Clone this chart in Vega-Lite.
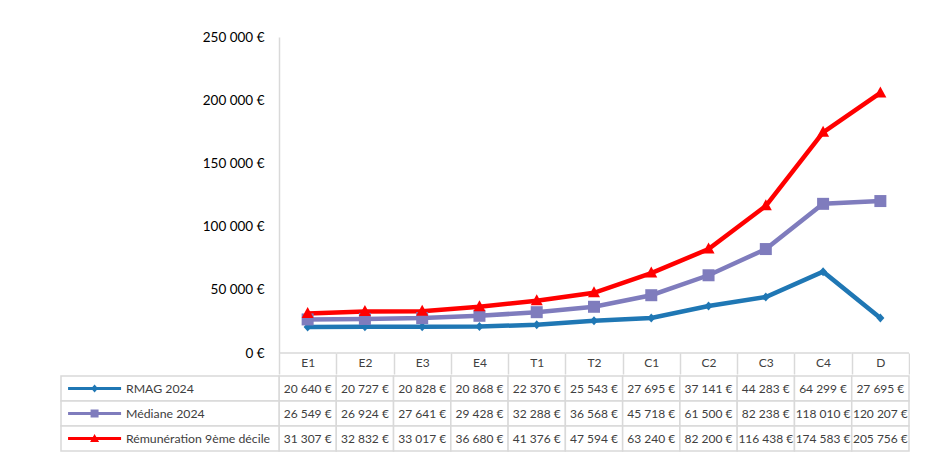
{
  "$schema": "https://vega.github.io/schema/vega-lite/v6.json",
  "padding": {"left": 60, "top": 30, "right": 0, "bottom": 0},
  "background": "white",
  "config": {"view": {"stroke": null}, "font": "Lato"},
  "spacing": 0,
  "resolve": {"scale": {"shape": "independent", "color": "independent"}},
  "data": {"values": [
    {"cat": "E1", "serie": "RMAG 2024", "valeur": 20640},
    {"cat": "E2", "serie": "RMAG 2024", "valeur": 20727},
    {"cat": "E3", "serie": "RMAG 2024", "valeur": 20828},
    {"cat": "E4", "serie": "RMAG 2024", "valeur": 20868},
    {"cat": "T1", "serie": "RMAG 2024", "valeur": 22370},
    {"cat": "T2", "serie": "RMAG 2024", "valeur": 25543},
    {"cat": "C1", "serie": "RMAG 2024", "valeur": 27695},
    {"cat": "C2", "serie": "RMAG 2024", "valeur": 37141},
    {"cat": "C3", "serie": "RMAG 2024", "valeur": 44283},
    {"cat": "C4", "serie": "RMAG 2024", "valeur": 64299},
    {"cat": "D", "serie": "RMAG 2024", "valeur": 27695},
    {"cat": "E1", "serie": "Médiane 2024", "valeur": 26549},
    {"cat": "E2", "serie": "Médiane 2024", "valeur": 26924},
    {"cat": "E3", "serie": "Médiane 2024", "valeur": 27641},
    {"cat": "E4", "serie": "Médiane 2024", "valeur": 29428},
    {"cat": "T1", "serie": "Médiane 2024", "valeur": 32288},
    {"cat": "T2", "serie": "Médiane 2024", "valeur": 36568},
    {"cat": "C1", "serie": "Médiane 2024", "valeur": 45718},
    {"cat": "C2", "serie": "Médiane 2024", "valeur": 61500},
    {"cat": "C3", "serie": "Médiane 2024", "valeur": 82238},
    {"cat": "C4", "serie": "Médiane 2024", "valeur": 118010},
    {"cat": "D", "serie": "Médiane 2024", "valeur": 120207},
    {"cat": "E1", "serie": "Rémunération 9ème décile", "valeur": 31307},
    {"cat": "E2", "serie": "Rémunération 9ème décile", "valeur": 32832},
    {"cat": "E3", "serie": "Rémunération 9ème décile", "valeur": 33017},
    {"cat": "E4", "serie": "Rémunération 9ème décile", "valeur": 36680},
    {"cat": "T1", "serie": "Rémunération 9ème décile", "valeur": 41376},
    {"cat": "T2", "serie": "Rémunération 9ème décile", "valeur": 47594},
    {"cat": "C1", "serie": "Rémunération 9ème décile", "valeur": 63240},
    {"cat": "C2", "serie": "Rémunération 9ème décile", "valeur": 82200},
    {"cat": "C3", "serie": "Rémunération 9ème décile", "valeur": 116438},
    {"cat": "C4", "serie": "Rémunération 9ème décile", "valeur": 174583},
    {"cat": "D", "serie": "Rémunération 9ème décile", "valeur": 205756}
  ]},
  "transform": [
    {"calculate": "floor(datum.valeur / 1000) + ' ' + pad(toString(datum.valeur % 1000), 3, '0', 'left') + ' €'", "as": "texte"}
  ],
  "vconcat": [
    {
      "width": 848,
      "height": 316,
      "encoding": {
        "x": {
          "field": "cat", "type": "nominal", "sort": null,
          "scale": {"type": "band", "domain": ["E1","E2","E3","E4","T1","T2","C1","C2","C3","C4","D"], "paddingInner": 0, "paddingOuter": 0, "range": [218, 848]},
          "axis": {"orient": "bottom", "title": null, "domain": false, "ticks": true, "tickBand": "extent", "tickSize": 21, "tickColor": "#d9d9d9", "tickWidth": 1.5, "labelAngle": 0, "labelFontSize": 12, "labelColor": "#404040", "labelPadding": -17, "labelFont": "Lato"}
        }
      },
      "layer": [
        {
          "transform": [{"filter": "datum.serie == 'RMAG 2024'"}],
          "mark": {"type": "rect", "fill": null, "stroke": "#d9d9d9", "strokeWidth": 1.5},
          "encoding": {
            "y": {"datum": 0, "type": "quantitative", "scale": {"domain": [0, 250000], "nice": false},
                  "axis": {"orient": "left", "offset": -218, "title": null, "values": [0, 50000, 100000, 150000, 200000, 250000], "ticks": false, "grid": false, "domainColor": "#d9d9d9", "domainWidth": 1.5, "labelFontSize": 13.5, "labelColor": "#000000", "labelPadding": 15, "labelFont": "Lato", "labelExpr": "datum.value == 0 ? '0 €' : format(datum.value / 1000, 'd') + ' 000 €'"}},
            "y2": {"datum": 0}
          }
        },
        {
          "mark": {"type": "line", "strokeWidth": 4.5},
          "encoding": {
            "x": {"field": "cat", "type": "nominal", "sort": null, "bandPosition": 0.5},
            "y": {"field": "valeur", "type": "quantitative"},
            "color": {"field": "serie", "type": "nominal", "legend": null,
                      "scale": {"domain": ["RMAG 2024", "Médiane 2024", "Rémunération 9ème décile"], "range": ["#1F77B4", "#7F7CBD", "#FF0000"]}}
          }
        },
        {
          "mark": {"type": "point", "filled": true, "opacity": 1, "size": 100},
          "encoding": {
            "x": {"field": "cat", "type": "nominal", "sort": null, "bandPosition": 0.5},
            "y": {"field": "valeur", "type": "quantitative"},
            "color": {"field": "serie", "type": "nominal", "legend": null},
            "shape": {"field": "serie", "type": "nominal", "legend": null,
                      "scale": {"domain": ["RMAG 2024", "Médiane 2024", "Rémunération 9ème décile"],
                                "range": ["M0,-0.9L0.8,0L0,0.9L-0.8,0Z", "M-1.2,-1.2H1.2V1.2H-1.2Z", "M0,-1.3L1.2,0.9H-1.2Z"]}}
          }
        }
      ]
    },
    {
      "width": 848,
      "height": 75,
      "resolve": {"scale": {"x": "independent"}},
      "layer": [
        {
          "mark": {"type": "rect", "fill": "white", "stroke": "#d9d9d9", "strokeWidth": 1.5},
          "encoding": {
            "x": {"field": "cat", "type": "nominal", "sort": null, "axis": null,
                  "scale": {"type": "band", "domain": ["E1","E2","E3","E4","T1","T2","C1","C2","C3","C4","D"], "paddingInner": 0, "paddingOuter": 0, "range": [218, 848]}},
            "y": {"field": "serie", "type": "nominal", "axis": null,
                  "scale": {"type": "band", "domain": ["RMAG 2024", "Médiane 2024", "Rémunération 9ème décile"], "paddingInner": 0, "paddingOuter": 0}}
          }
        },
        {
          "mark": {"type": "text", "fontSize": 12, "color": "#404040", "align": "center", "baseline": "middle"},
          "encoding": {
            "x": {"field": "cat", "type": "nominal", "sort": null, "axis": null, "bandPosition": 0.5,
                  "scale": {"type": "band", "domain": ["E1","E2","E3","E4","T1","T2","C1","C2","C3","C4","D"], "paddingInner": 0, "paddingOuter": 0, "range": [218, 848]}},
            "y": {"field": "serie", "type": "nominal", "axis": null, "bandPosition": 0.5},
            "text": {"field": "texte"}
          }
        },
        {
          "transform": [{"filter": "datum.cat == 'E1'"}],
          "mark": {"type": "rect", "fill": "white", "stroke": "#d9d9d9", "strokeWidth": 1.5},
          "encoding": {
            "x": {"datum": "L", "type": "nominal", "axis": null,
                  "scale": {"type": "band", "domain": ["L"], "paddingInner": 0, "paddingOuter": 0, "range": [0, 218]}},
            "y": {"field": "serie", "type": "nominal", "axis": null}
          }
        },
        {
          "transform": [{"filter": "datum.cat == 'E1'"}],
          "mark": {"type": "point", "filled": true, "opacity": 1, "size": 100},
          "encoding": {
            "x": {"datum": "L", "type": "nominal", "axis": null, "bandPosition": 0.154,
                  "scale": {"type": "band", "domain": ["L"], "paddingInner": 0, "paddingOuter": 0, "range": [0, 218]}},
            "y": {"field": "serie", "type": "nominal", "axis": null, "bandPosition": 0.5},
            "color": {"field": "serie", "type": "nominal", "legend": null,
                      "scale": {"domain": ["RMAG 2024", "Médiane 2024", "Rémunération 9ème décile"], "range": ["#1F77B4", "#7F7CBD", "#FF0000"]}},
            "shape": {"field": "serie", "type": "nominal", "legend": null,
                      "scale": {"domain": ["RMAG 2024", "Médiane 2024", "Rémunération 9ème décile"],
                                "range": ["M-5.3,-0.3H5.3V0.3H-5.3Z M0,-0.8L0.7,0L0,0.8L-0.7,0Z", "M-5.3,-0.3H5.3V0.3H-5.3Z M-0.8,-0.8H0.8V0.8H-0.8Z", "M-5.3,-0.3H5.3V0.3H-5.3Z M0,-0.9L0.9,0.7H-0.9Z"]}}
          }
        },
        {
          "transform": [{"filter": "datum.cat == 'E1'"}],
          "mark": {"type": "text", "fontSize": 12.3, "color": "#404040", "align": "left", "baseline": "middle"},
          "encoding": {
            "x": {"datum": "L", "type": "nominal", "axis": null, "bandPosition": 0.298,
                  "scale": {"type": "band", "domain": ["L"], "paddingInner": 0, "paddingOuter": 0, "range": [0, 218]}},
            "y": {"field": "serie", "type": "nominal", "axis": null, "bandPosition": 0.5},
            "text": {"field": "serie"}
          }
        }
      ]
    }
  ]
}
